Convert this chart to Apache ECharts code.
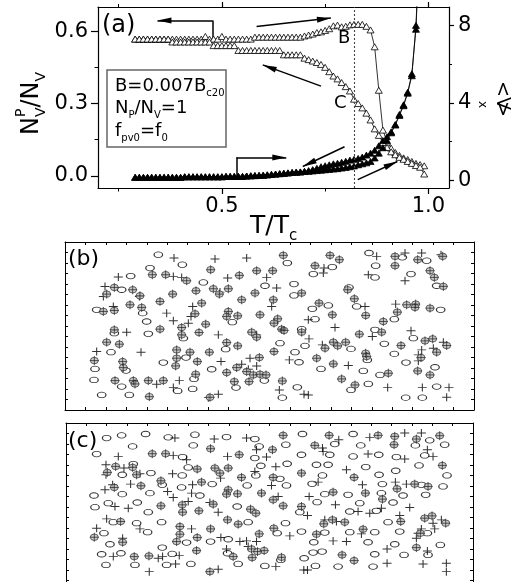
<!DOCTYPE html>
<html><head><meta charset="utf-8">
<script src="https://cdn.jsdelivr.net/npm/echarts@6/dist/echarts.min.js"></script>
<style>html,body{margin:0;padding:0;background:#fff}#c{width:514px;height:582px}</style>
</head><body><div id="c"></div>
<script>
// ---------- panel (a) data ----------
const T = [0.29,
0.30,0.31,0.32,0.33,0.34,0.35,0.36,0.37,0.38,0.39,
0.40,0.41,0.42,0.43,0.44,0.45,0.46,0.47,0.48,0.49,
0.50,0.51,0.52,0.53,0.54,0.55,0.56,0.57,0.58,0.59,
0.60,0.61,0.62,0.63,0.64,0.65,0.66,0.67,0.68,0.69,
0.70,0.71,0.72,0.73,0.74,0.75,0.76,0.77,0.78,0.79,
0.80,0.81,0.82,0.83,0.84,0.85,0.86,0.87,0.88,0.89,
0.90,0.91,0.92,0.93,0.94,0.95,0.96,0.97,0.98,0.99];
// N_V^P/N_V, heating branch (B)
const fracB = [0.567,
0.567,0.567,0.567,0.567,0.567,0.567,0.567,0.567,0.567,0.567,
0.567,0.567,0.567,0.567,0.567,0.567,0.578,0.567,0.567,0.567,
0.578,0.567,0.567,0.567,0.567,0.567,0.567,0.567,0.575,0.575,
0.575,0.575,0.575,0.575,0.575,0.575,0.575,0.575,0.575,0.575,
0.58,0.584,0.588,0.594,0.597,0.603,0.61,0.622,0.625,0.618,
0.62,0.626,0.628,0.628,0.628,0.62,0.605,0.535,0.355,0.19,
0.14,0.115,0.097,0.085,0.075,0.068,0.06,0.052,0.047,0.042];
// N_V^P/N_V, cooling branch (C)
const fracC = [0.567,
0.567,0.567,0.567,0.567,0.567,0.567,0.567,0.567,0.555,0.555,
0.555,0.555,0.555,0.555,0.555,0.555,0.555,0.555,0.54,0.54,
0.54,0.54,0.54,0.54,0.52,0.52,0.52,0.52,0.52,0.52,
0.52,0.52,0.52,0.52,0.52,0.502,0.502,0.502,0.502,0.502,
0.488,0.482,0.476,0.47,0.462,0.45,0.432,0.414,0.402,0.387,
0.37,0.352,0.318,0.30,0.282,0.26,0.232,0.195,0.168,0.138,
0.118,0.10,0.088,0.077,0.069,0.06,0.052,0.043,0.036,0.008];
// <V_x>, heating
const vxHeat = [0.15,
0.15,0.15,0.15,0.15,0.15,0.15,0.15,0.15,0.15,0.15,
0.15,0.18,0.18,0.18,0.18,0.18,0.18,0.18,0.18,0.18,
0.18,0.2,0.2,0.2,0.2,0.2,0.22,0.23,0.24,0.25,
0.26,0.28,0.30,0.32,0.34,0.36,0.38,0.40,0.42,0.43,
0.45,0.46,0.48,0.50,0.52,0.54,0.56,0.58,0.60,0.63,
0.66,0.70,0.74,0.80,0.85,0.90,0.97,1.15,1.4,1.68,
2.05,2.45,2.85,3.35,3.85,4.5,5.4,8.0,13,null];
// <V_x>, cooling
const vxCool = [0.15,
0.15,0.15,0.15,0.15,0.15,0.15,0.15,0.15,0.15,0.15,
0.15,0.18,0.18,0.18,0.18,0.18,0.18,0.18,0.18,0.18,
0.18,0.2,0.2,0.2,0.2,0.2,0.22,0.23,0.24,0.25,
0.26,0.28,0.30,0.32,0.34,0.36,0.38,0.40,0.42,0.43,
0.46,0.50,0.55,0.62,0.70,0.75,0.80,0.85,0.88,0.93,
0.98,1.04,1.08,1.13,1.2,1.3,1.4,1.55,1.78,2.05,
2.25,2.5,2.88,3.4,3.9,4.55,5.5,7.8,13,null];
const xTicksMajor = [0.5, 1.0];
const xTicksMinor = [0.25, 0.75];
const yLeftMajor = [0.0, 0.3, 0.6];
const yLeftMinor = [0.15, 0.45];
const yRightMajor = [0, 4, 8];
const yRightMinor = [2, 6];
const Tmark = 0.823;
// annotation arrows (data coords)
const arrowsLeft = [[[0.478,0.644],[0.344,0.644]], [[0.584,0.619],[0.764,0.654]], [[0.740,0.372],[0.599,0.46]]];
const stemsLeft = [[[0.478,0.567],[0.478,0.644]]];
const arrowsRight = [[[0.535,1.18],[0.656,1.18]], [[0.797,1.73],[0.696,0.71]], [[0.829,0.03],[0.925,0.97]]];
const stemsRight = [[[0.535,0.2],[0.535,1.18]]];

// ---------- panels (b), (c): positions in box units ----------
const vortB = [[475,60],[547,90],[862,85],[1107,55],[1207,68],[1280,78],
[450,100],[997,97],[940,118],[1127,93],[392,124],[1125,128],[1233,118],
[365,165],[610,143],[795,153],[882,148],[1047,158],[1310,153],[882,182],
[985,212],[1070,215],[1322,225],[290,225],[428,235],[937,222],[945,253],
[440,260],[697,262],[1183,253],[343,295],[445,297],[550,310],[905,283],[1125,285],
[840,325],[915,333],[1053,342],[1153,327],[1240,310],[333,352],[677,343],[885,352],[1183,357],
[558,368],[490,383],[897,382],[1102,375],[1218,383],[285,402],[378,407],[635,403],[963,402],[1090,408],[1305,397],
[1140,420],[282,435],[582,432],[793,437],[1105,447],[365,455],[533,468],[578,462],[708,458],[892,457],[1053,465],[1310,455],
[305,480],[388,480],[847,488],[1217,488],[1267,488]];
const pinsB = [[522,70],[645,73],[740,70],[1130,65],[1215,55],[1265,55],[1323,60],
[972,100],[970,115],[355,127],[520,125],[545,128],[683,130],[800,128],[1105,120],[1215,138],
[315,155],[660,172],[830,160],[310,185],[418,185],[578,215],[815,215],[1095,215],[1187,208],
[340,215],[500,235],[573,245],[925,255],[520,258],[565,265],[1005,278],
[380,292],[655,300],[770,300],[1117,305],[1233,288],[927,312],[967,330],[1330,322],[1300,340],
[290,350],[423,352],[1265,345],[1255,360],[663,380],[750,370],[868,375],[1045,392],[1255,378],
[725,388],[745,403],[770,393],[470,448],[538,437],[520,458],[838,465],[1163,458],[1267,458],[1347,458],
[625,488],[655,478],[912,478],[925,480],[1340,487]];
const pinnedB = [[850,62],[990,62],[1018,75],[1185,65],[1253,75],[1328,65],
[632,105],[770,108],[818,108],[945,93],[1185,93],[1290,108],
[457,120],[497,120],[560,138],[718,122],[1303,128],
[343,158],[398,165],[588,168],[640,162],[685,162],[1043,165],[1330,155],
[320,178],[420,183],[518,178],[658,178],[765,175],[905,175],[1063,192],
[480,200],[390,210],[425,218],[605,205],[725,195],[820,195],[957,205],[1220,210],[1247,208],[1245,218],[1290,220],
[310,230],[343,227],[585,237],[685,230],[680,245],[713,243],[780,240],[833,252],[997,240],[1097,242],[1192,232],
[617,268],[822,265],[1150,260],[545,278],
[343,285],[480,283],[545,300],[597,293],[755,292],[770,307],[845,283],[852,287],[905,292],[1145,292],[1078,298],
[320,322],[358,328],[680,323],[713,333],[975,340],[1000,322],[1013,333],[1037,322],[1203,332],[1275,318],[1298,312],[1340,332],
[530,345],[570,352],[628,352],[822,350],[1097,355],[1310,352],[1263,368],
[283,377],[368,380],[530,370],[592,380],[778,368],[950,370],[1000,387],[1100,365],
[370,398],[527,393],[710,398],[740,410],[1253,408],
[587,418],[680,413],[760,420],[780,418],[798,420],[1165,415],[1290,420],
[345,437],[400,437],[405,447],[445,437],[490,437],[703,440],[747,440],[847,438],[1025,432],[1065,450],
[448,485],[630,487]];
const vortC = [[320,100],[365,92],[437,88],[505,98],[585,90],[680,97],[765,103],[908,88],[1060,88],[1290,107],
[398,125],[580,122],[778,125],[858,120],[1005,118],[1083,122],[1247,122],[1335,120],[290,148],
[548,157],[765,160],[905,150],[990,150],[1060,155],[1137,150],[1190,157],[1275,152],
[400,178],[565,188],[783,183],[862,177],[950,180],[985,180],[1098,187],[1188,198],[1258,182],
[367,210],[453,205],[547,212],[768,212],[840,222],[968,212],[1138,210],[1342,212],
[487,240],[545,248],[637,238],[742,242],[860,242],[937,237],[1148,238],[1265,240],[1330,245],
[282,272],[367,268],[450,265],[600,272],[975,268],[1045,270],[1145,265],[1210,272],[1278,270],
[285,307],[325,295],[412,293],[712,305],[952,292],[1080,295],[1180,293],
[445,322],[900,322],[1050,320],[1130,318],
[340,352],[410,355],[485,352],[745,352],[857,355],[1165,352],
[312,385],[443,382],[832,385],[905,380],[975,383],[1050,382],[1125,382],[1200,380],[1283,385],
[330,418],[560,413],[632,410],[685,403],[942,412],[1105,412],[1185,418],[1322,420],
[487,428],[683,445],[940,443],[967,440],[1125,448],[1285,450],
[305,448],[363,445],[517,447],[843,465],[913,460],[1213,450],
[318,480],[405,480],[500,480],[573,477],[715,477],[795,483],[947,483],[1015,485],[1120,485]];
const pinsC = [[525,100],[643,103],[740,100],[1017,105],[1110,98],[1215,85],[1265,85],
[770,135],[968,130],[1283,135],
[355,155],[520,152],[560,165],[683,155],[800,157],[970,140],[1105,148],[1215,163],[1300,155],
[318,180],[372,190],[828,186],[1040,195],
[318,210],[420,207],[518,207],[662,220],[765,200],
[392,238],[315,255],[338,240],[578,240],[815,242],[955,232],[1088,240],[1187,232],[1220,238],
[503,260],[520,278],[575,265],[835,275],[928,275],
[345,305],[385,310],[565,290],[630,293],[1007,300],[1230,308],
[655,322],[923,332],[1075,320],[1110,325],[1145,310],
[320,342],[975,345],[1010,350],[1200,332],[1325,345],[1300,355],
[290,370],[420,372],[575,372],[870,393],[1085,387],[1265,372],[1255,385],[1305,372],
[368,400],[663,398],[720,410],[740,408],[770,410],[1000,408],[1040,410],[1250,400],
[680,432],[745,425],[1162,432],[1283,438],
[340,455],[475,460],[488,455],[538,452],[1340,475],
[527,477],[828,485],[912,495],[923,495],[1162,475],[1270,477],[1340,500],[448,500],[655,493]];
const pinnedC = [[850,92],[988,92],[1135,92],[1185,95],[1250,103],[1320,93],
[632,132],[818,135],[945,122],[1183,120],
[457,147],[497,147],[718,150],
[347,185],[398,188],[592,193],[645,190],[685,190],[1328,182],
[322,203],[410,210],[660,205],[725,218],[820,218],[905,205],[1063,218],
[483,228],[423,243],[343,248],[605,232],[685,255],[1245,238],[1285,245],[1192,252],
[680,268],[713,267],[785,265],[820,285],[1000,262],[1097,265],
[483,303],[547,300],[640,298],[752,313],[850,303],[905,305],[1148,283],
[548,322],[597,318],[768,325],
[362,350],[540,365],[683,345],[715,358],[972,357],[998,345],[1035,352],[1203,350],[1275,340],[1297,333],[1338,355],
[540,388],[632,372],[822,370],[950,388],[1090,373],[1262,385],[778,387],
[283,397],[368,412],[530,410],[592,398],
[755,432],[793,437],[590,437],[773,440],[1027,450],[1250,428],
[403,455],[447,453],[700,455],[757,458],[845,457],[1063,467],
[630,500]];
const boxB = {x:[195,1422], y:[22,525]};
const boxC = {x:[198,1420], y:[55,558]};

// ---------- helpers ----------
const FAM = 'DejaVu Sans';
const mctx = document.createElement('canvas').getContext('2d');
function tw(t, fs){ mctx.font = fs + 'px "' + FAM + '"'; return mctx.measureText(t).width; }
// pieces: [text, fontSize, baselineShift, dxBefore, noAdvance]
function textRun(pieces, x, y, rotation){
  let cx = 0; const children = [];
  pieces.forEach(p => {
    const fs = p[1], dy = p[2] || 0;
    cx += (p[3] || 0);
    children.push({type:'text', x: cx, y: dy - 0.35*fs, silent:true,
      style:{text:p[0], fontSize:fs, fontFamily:FAM, fill:'#000', verticalAlign:'middle', align:'left'}});
    if (!p[4]) cx += tw(p[0], fs);
  });
  return {type:'group', x:x, y:y, rotation: rotation || 0, children:children, silent:true};
}
const pair = ys => T.map((t,i)=>[t, ys[i]]).filter(d => d[1] != null);
const PLUS = 'path://M0,5L10,5M5,0L5,10';
const ARROW = 'path://M0,0M28,28M14,14L17,28L11,28Z';
const LBL = {fontFamily:FAM, fontSize:21, color:'#000'};
const AL = {show:true, onZero:false, lineStyle:{color:'#000', width:1.2}};

function panelAxes(grid, box){
  const xi = (box.x[1]-box.x[0])/20, yi = (box.y[1]-box.y[0])/16;
  const tick = {show:true, inside:true, length:3, lineStyle:{color:'#000', width:1}};
  const line = {show:true, onZero:false, lineStyle:{color:'#000', width:1}};
  const xa = pos => ({gridIndex:grid, type:'value', position:pos, min:box.x[0], max:box.x[1], interval:xi,
    axisLine:line, axisTick:tick, axisLabel:{show:false}, splitLine:{show:false}});
  const ya = pos => ({gridIndex:grid, type:'value', position:pos, inverse:true, min:box.y[0], max:box.y[1], interval:yi,
    axisLine:line, axisTick:tick, axisLabel:{show:false}, splitLine:{show:false}});
  return {x:[xa('bottom'), xa('top')], y:[ya('left'), ya('right')]};
}
const pb = panelAxes(1, boxB), pc = panelAxes(2, boxC);

function posSeries(xi, yi, vort, pins, pinned){
  const base = {type:'scatter', xAxisIndex:xi, yAxisIndex:yi, silent:true, animation:false};
  return [
    Object.assign({}, base, {data:vort, symbol:'circle', symbolSize:[8.5,5.5],
      itemStyle:{color:'#fff', borderColor:'#000', borderWidth:1}}),
    Object.assign({}, base, {data:pins, symbol:PLUS, symbolSize:[9,8],
      itemStyle:{color:'rgba(0,0,0,0)', borderColor:'#000', borderWidth:1}}),
    Object.assign({}, base, {data:pinned, symbol:'circle', symbolSize:[8,6.5],
      itemStyle:{color:'#bdbdbd', borderColor:'#333', borderWidth:0.9}}),
    Object.assign({}, base, {data:pinned, symbol:PLUS, symbolSize:[9,9],
      itemStyle:{color:'rgba(0,0,0,0)', borderColor:'#222', borderWidth:0.9}})
  ];
}
function arrowSeries(yi, heads, stems){
  const base = {type:'lines', coordinateSystem:'cartesian2d', xAxisIndex:0, yAxisIndex:yi, silent:true, animation:false,
    lineStyle:{color:'#000', width:1.5, opacity:1, curveness:0}};
  return [
    Object.assign({}, base, {symbol:['none', ARROW], symbolSize:28, data:heads.map(c=>({coords:c}))}),
    Object.assign({}, base, {symbol:['none','none'], data:stems.map(c=>({coords:c}))})
  ];
}
const curve = (name, ys, yi, filled) => ({
  type:'line', name:name, xAxisIndex:0, yAxisIndex:yi, data:pair(ys), symbol:'triangle', symbolSize:[7,6],
  showSymbol:true, lineStyle:{color:'#000', width:0.8}, silent:true, animation:false,
  itemStyle:{color: filled ? '#000' : '#fff', borderColor:'#000', borderWidth:0.8}
});

const chart = echarts.init(document.getElementById('c'), null, {renderer:'canvas'});
const seriesB = curve('B', fracB, 0, false);
seriesB.markLine = {silent:true, symbol:['none','none'], label:{show:false},
  lineStyle:{color:'#444', type:[2,2], width:1.1}, data:[{xAxis:Tmark}], animation:false};

chart.setOption({
  animation:false,
  backgroundColor:'#fff',
  grid:[
    {left:98, top:7, width:351, height:181, outerBoundsMode:'none', containLabel:false},
    {left:65, top:242, width:409, height:168, outerBoundsMode:'none', containLabel:false},
    {left:66, top:423, width:407, height:168, outerBoundsMode:'none', containLabel:false}
  ],
  xAxis:[
    {gridIndex:0, type:'value', position:'bottom', min:0.2, max:1.05, axisLine:AL,
     axisTick:{show:true, inside:false, length:6, customValues:xTicksMajor, lineStyle:{color:'#000', width:1.2}},
     axisLabel:Object.assign({show:true, margin:8, customValues:xTicksMajor, formatter:v=>v.toFixed(1)}, LBL),
     splitLine:{show:false}},
    {gridIndex:0, type:'value', position:'bottom', min:0.2, max:1.05, axisLine:{show:false, onZero:false},
     axisTick:{show:true, inside:false, length:3.5, customValues:xTicksMinor, lineStyle:{color:'#000', width:1}},
     axisLabel:{show:false}, splitLine:{show:false}},
    {gridIndex:0, type:'value', position:'top', min:0.2, max:1.05, axisLine:AL,
     axisTick:{show:true, inside:false, length:5, customValues:xTicksMajor, lineStyle:{color:'#000', width:1.2}},
     axisLabel:{show:false}, splitLine:{show:false}},
    {gridIndex:0, type:'value', position:'top', min:0.2, max:1.05, axisLine:{show:false, onZero:false},
     axisTick:{show:true, inside:false, length:3, customValues:xTicksMinor, lineStyle:{color:'#000', width:1}},
     axisLabel:{show:false}, splitLine:{show:false}},
    pb.x[0], pb.x[1], pc.x[0], pc.x[1]
  ],
  yAxis:[
    {gridIndex:0, type:'value', position:'left', min:-0.05, max:0.70, axisLine:AL,
     axisTick:{show:true, inside:false, length:7, customValues:yLeftMajor, lineStyle:{color:'#000', width:1.2}},
     axisLabel:Object.assign({show:true, margin:10, customValues:yLeftMajor, formatter:v=>v.toFixed(1)}, LBL),
     splitLine:{show:false}},
    {gridIndex:0, type:'value', position:'right', min:-0.4, max:8.95, axisLine:AL,
     axisTick:{show:true, inside:false, length:5, customValues:yRightMajor, lineStyle:{color:'#000', width:1.2}},
     axisLabel:Object.assign({show:true, margin:9, customValues:yRightMajor, formatter:v=>String(v)}, LBL),
     splitLine:{show:false}},
    {gridIndex:0, type:'value', position:'left', min:-0.05, max:0.70, axisLine:{show:false, onZero:false},
     axisTick:{show:true, inside:false, length:3.5, customValues:yLeftMinor, lineStyle:{color:'#000', width:1}},
     axisLabel:{show:false}, splitLine:{show:false}},
    {gridIndex:0, type:'value', position:'right', min:-0.4, max:8.95, axisLine:{show:false, onZero:false},
     axisTick:{show:true, inside:false, length:3, customValues:yRightMinor, lineStyle:{color:'#000', width:1}},
     axisLabel:{show:false}, splitLine:{show:false}},
    pb.y[0], pb.y[1], pc.y[0], pc.y[1]
  ],
  series:[
    seriesB,
    curve('C', fracC, 0, false),
    curve('Vx heating', vxHeat, 1, true),
    curve('Vx cooling', vxCool, 1, true),
    ...arrowSeries(0, arrowsLeft, stemsLeft),
    ...arrowSeries(1, arrowsRight, stemsRight),
    ...posSeries(4, 4, vortB, pinsB, pinnedB),
    ...posSeries(6, 6, vortC, pinsC, pinnedC)
  ],
  graphic:[
    {type:'rect', shape:{x:107, y:70, width:119, height:77}, silent:true,
     style:{fill:'rgba(0,0,0,0)', stroke:'#666', lineWidth:1.5}},
    textRun([['B=0.007B',18,0],['c20',10,4]], 115, 93),
    textRun([['N',18,0],['P',10,4],['/N',18,0],['V',10,4],['=1',18,0]], 115, 115),
    textRun([['f',18,0],['pv0',10,4],['=f',18,0],['0',10,4]], 115, 138),
    textRun([['(a)',24,0]], 102, 34),
    textRun([['B',18,0]], 338, 45),
    textRun([['C',18,0]], 334, 110),
    textRun([['(b)',22,0]], 68, 267),
    textRun([['(c)',22,0]], 68, 449),
    textRun([['T/T',25,0],['c',15,6]], 250, 235),
    textRun([['N',24,0],['P',14,-14,0,true],['V',14,6],['/',24,0],['N',24,0],['V',14,6]], 40, 135, Math.PI/2),
    textRun([['<V',19,0],['x',12,17,-9,true],['>',19,0]], 495, 81, -Math.PI/2)
  ]
});
</script>
</body></html>
